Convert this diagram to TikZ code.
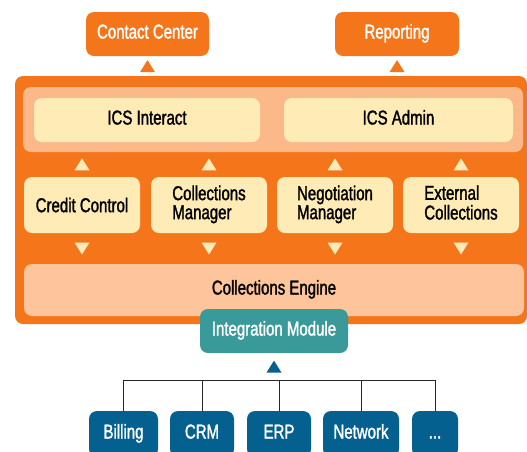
\documentclass[tikz,border=0pt]{standalone}
\usepackage{fontspec}
\setmainfont[FakeStretch=0.75,FakeBold=1.5]{Liberation Sans}
\usepackage{tikz}
\usetikzlibrary{calc,positioning}
\usepackage{xcolor}
\definecolor{ornge}{HTML}{F5761A}
\definecolor{band}{HTML}{FBB98A}
\definecolor{cream}{HTML}{FEEBB6}
\definecolor{peach}{HTML}{FEC59C}
\definecolor{teal}{HTML}{3A9A99}
\definecolor{navy}{HTML}{04608F}

\tikzset{
  box/.style={rounded corners=8pt,inner sep=0pt,font=\fontsize{20}{17.5}\selectfont,align=center},
  oneline/.style={text height=14pt,text depth=5pt},
  topbox/.style={box,oneline,fill=ornge,text=white,minimum height=44pt},
  icsbox/.style={box,oneline,fill=cream,minimum height=44pt},
  modbox/.style={box,fill=cream,minimum width=116pt,minimum height=56pt},
  sysbox/.style={box,oneline,fill=navy,text=white,minimum height=46pt},
  uptri/.pic={\fill[pic actions] (-7.5,6) -- (7.5,6) -- (0,-6) -- cycle;},
  dntri/.pic={\fill[pic actions] (-7.5,-6) -- (7.5,-6) -- (0,6) -- cycle;}
}

\begin{document}
\begin{tikzpicture}[x=1pt,y=-1pt]
  \useasboundingbox (0,0) rectangle (527,451);
  \clip (0,0) rectangle (527,451);
  % outer frame and bands
  \fill[ornge,rounded corners=8pt] (15,76) rectangle (527,324);
  \fill[band,rounded corners=8pt] (23,87) rectangle (523,152);
  \node[box,oneline,fill=peach,minimum width=500pt,minimum height=52pt] (eng) at (274,290) {Collections Engine};
  % top systems
  \node[topbox,minimum width=123pt] (cc) at (147.5,34) {Contact Center};
  \node[topbox,minimum width=124pt] (rep) at (397,34) {Reporting};
  \coordinate (frame) at (0,76);
  \pic[ornge] at ($(cc.south)!0.5!(cc.south |- frame)$) {uptri};
  \pic[ornge] at ($(rep.south)!0.5!(rep.south |- frame)$) {uptri};
  % ICS front ends
  \node[icsbox,minimum width=226pt] (inter) at (147,120) {ICS Interact};
  \node[icsbox,minimum width=229pt] (admin) at (398.5,120) {ICS Admin};
  \coordinate (bandS) at (0,152);
  % modules
  \node[modbox] (credit) at (82,205) {Credit Control};
  \node[modbox] (colman) at (209,205) {\begin{tabular}{@{}l@{}}Collections\\Manager\end{tabular}};
  \node[modbox] (negman) at (335,205) {\begin{tabular}{@{}l@{}}Negotiation\\Manager\end{tabular}};
  \node[modbox] (extcol) at (461,205) {\begin{tabular}{@{}l@{}}External\\Collections\end{tabular}};
  \foreach \m in {credit,colman,negman,extcol}{
    \pic[cream] at ($(\m.north)!0.5!(\m.north |- bandS)$) {uptri};
    \pic[cream] at ($(\m.south)!0.5!(\m.south |- eng.north)$) {dntri};
  }
  % integration
  \node[box,oneline,fill=teal,text=white,minimum width=148pt,minimum height=44pt] (integ) at (274,331) {Integration Module};
  \coordinate (bus) at (0,380);
  \pic[navy] at ($(integ.south)!0.5!(integ.south |- bus)$) {uptri};
  % back-end systems
  \node[sysbox,minimum width=69pt] (bill) at (123.5,434) {Billing};
  \node[sysbox,minimum width=64pt] (crm) at (202,434) {CRM};
  \node[sysbox,minimum width=64pt] (erp) at (279,434) {ERP};
  \node[sysbox,minimum width=76pt] (net) at (361,434) {Network};
  \node[sysbox,minimum width=46pt] (more) at (435,434) {...};
  \draw[line width=1pt,black!85] (bill.north) |- (more.north |- bus) -- (more.north);
  \foreach \s in {crm,erp,net}
    \draw[line width=1pt,black!85] (\s.north) -- (\s.north |- bus);
\end{tikzpicture}
\end{document}
